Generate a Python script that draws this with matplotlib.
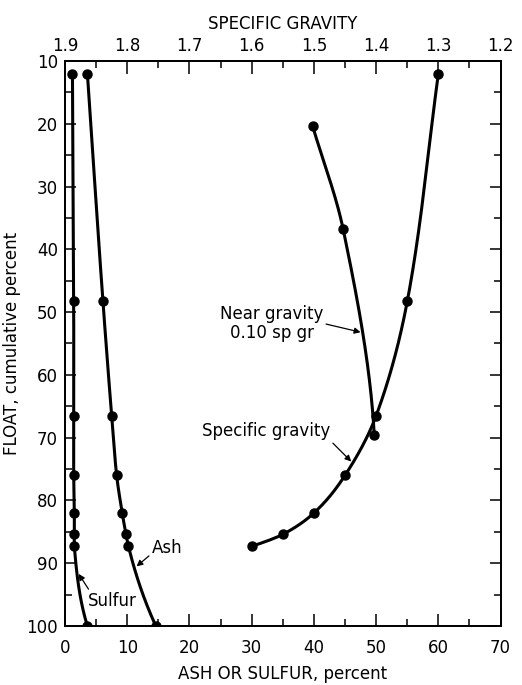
import numpy as np
import matplotlib

matplotlib.use('Agg')
import matplotlib.pyplot as plt
from matplotlib.ticker import MultipleLocator, FormatStrFormatter

plt.rcParams['font.family'] = ['Liberation Sans Narrow', 'DejaVu Sans']

# float, cumulative percent at each specific gravity cut
float_pct = [12.0, 48.3, 66.5, 76.0, 82.0, 85.4, 87.3]
sp_gr = [1.30, 1.35, 1.40, 1.45, 1.50, 1.55, 1.60]

# cumulative ash / sulfur (last point = whole coal, 100 % float)
float_all = float_pct + [100.0]
ash = [3.6, 6.1, 7.5, 8.3, 9.2, 9.8, 10.2, 14.6]
sulfur = [1.2, 1.4, 1.4, 1.4, 1.5, 1.5, 1.5, 3.6]

# near gravity material, +/- 0.10 sp gr
ng_float = [20.4, 36.8, 69.6]
ng_pct = [39.8, 44.7, 49.7]


def smooth(y, x, n=300):
    # monotone-ish cubic through (y, x), x as a function of y
    y = np.asarray(y, float)
    x = np.asarray(x, float)
    h = np.diff(y)
    d = np.diff(x) / h
    m = np.zeros_like(x)
    for k in range(1, len(x) - 1):
        if d[k - 1] * d[k] > 0:
            w1 = 2 * h[k] + h[k - 1]
            w2 = h[k] + 2 * h[k - 1]
            m[k] = (w1 + w2) / (w1 / d[k - 1] + w2 / d[k])
        elif d[k - 1] == 0 or d[k] == 0:
            m[k] = 0.5 * (d[k - 1] + d[k])
    m[0] = d[0]
    if len(x) > 2:
        m[-1] = ((2 * h[-1] + h[-2]) * d[-1] - h[-1] * d[-2]) / (h[-1] + h[-2])
        if np.sign(m[-1]) != np.sign(d[-1]):
            m[-1] = 0
    else:
        m[-1] = d[-1]
    yy = np.linspace(y[0], y[-1], n)
    idx = np.clip(np.searchsorted(y, yy) - 1, 0, len(h) - 1)
    t = (yy - y[idx]) / h[idx]
    h00 = 2 * t**3 - 3 * t**2 + 1
    h10 = t**3 - 2 * t**2 + t
    h01 = -2 * t**3 + 3 * t**2
    h11 = t**3 - t**2
    xx = h00 * x[idx] + h10 * h[idx] * m[idx] + h01 * x[idx + 1] + h11 * h[idx] * m[idx + 1]
    return xx, yy


fig = plt.figure(figsize=(5.22, 6.85), dpi=100)
ax = fig.add_axes([0.1245, 0.0861, 0.8345, 0.8249])
ax2 = ax.twiny()

lw = 2.2
ms = 6.5

xs, ys = smooth(float_all, sulfur)
ax.plot(xs, ys, color='black', lw=lw)
ax.plot(sulfur, float_all, 'o', color='black', ms=ms)

xa, ya = smooth(float_all, ash)
ax.plot(xa, ya, color='black', lw=lw)
ax.plot(ash, float_all, 'o', color='black', ms=ms)

xn, yn = smooth(ng_float, ng_pct)
ax.plot(xn, yn, color='black', lw=lw)
ax.plot(ng_pct, ng_float, 'o', color='black', ms=ms)

xg, yg = smooth(float_pct, sp_gr)
ax2.plot(xg, yg, color='black', lw=lw)
ax2.plot(sp_gr, float_pct, 'o', color='black', ms=ms)

ax.set_xlim(0, 70)
ax.set_ylim(100, 10)
ax2.set_xlim(1.9, 1.2)

ax.xaxis.set_major_locator(MultipleLocator(10))
ax.xaxis.set_minor_locator(MultipleLocator(5))
ax.yaxis.set_major_locator(MultipleLocator(10))
ax.yaxis.set_minor_locator(MultipleLocator(5))
ax2.xaxis.set_major_locator(MultipleLocator(0.1))
ax2.xaxis.set_minor_locator(MultipleLocator(0.05))
ax2.xaxis.set_major_formatter(FormatStrFormatter('%.1f'))

ax.tick_params(axis='x', which='major', direction='in', length=9, width=1.1,
               labelsize=12, pad=9)
ax.tick_params(axis='x', which='minor', direction='in', length=5, width=1.1)
ax.tick_params(axis='y', which='major', direction='in', length=8, width=1.1,
               labelsize=12, pad=5, right=True)
ax.tick_params(axis='y', which='minor', direction='in', length=5, width=1.1, right=True)
ax2.tick_params(axis='x', which='major', direction='in', length=9, width=1.1,
                labelsize=12, pad=4)
ax2.tick_params(axis='x', which='minor', direction='in', length=5, width=1.1)

for a in (ax, ax2):
    for s in a.spines.values():
        s.set_linewidth(1.3)

ax.set_xlabel('ASH OR SULFUR, percent', fontsize=12, labelpad=6)
ax.set_ylabel('FLOAT, cumulative percent', fontsize=12, labelpad=4)
ax2.set_xlabel('SPECIFIC GRAVITY', fontsize=12, labelpad=6)

arrow = dict(arrowstyle='-|>', lw=0.9, color='black', mutation_scale=9,
             shrinkA=0, shrinkB=0)
ax.annotate('Near gravity\n0.10 sp gr', xy=(47.5, 53.2), xytext=(33.2, 51.8),
            ha='center', va='center', fontsize=12, linespacing=1.1,
            arrowprops=dict(arrow, relpos=(1.0, 0.5)))
ax.annotate('Specific gravity', xy=(46.0, 73.8), xytext=(32.3, 69.0),
            ha='center', va='center', fontsize=12,
            arrowprops=dict(arrow, relpos=(1.0, 0.0)))
ax.annotate('Ash', xy=(11.5, 90.5), xytext=(16.4, 87.6),
            ha='center', va='center', fontsize=12,
            arrowprops=dict(arrow, relpos=(0.0, 0.2)))
ax.annotate('Sulfur', xy=(2.2, 91.7), xytext=(7.6, 96.0),
            ha='center', va='center', fontsize=12,
            arrowprops=dict(arrow, relpos=(0.05, 1.0)))

fig.savefig('out.png', dpi=100)
